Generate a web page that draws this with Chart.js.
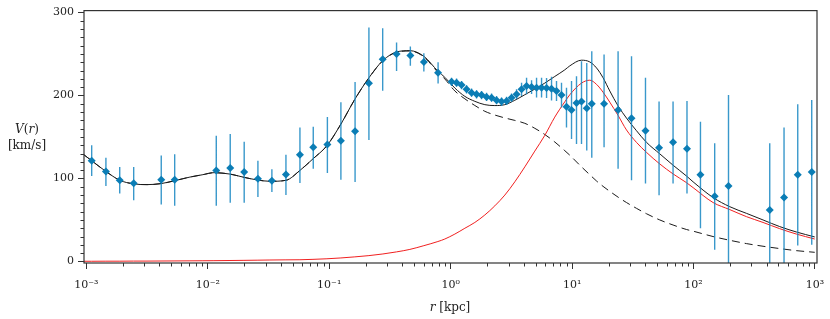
<!DOCTYPE html>
<html>
<head>
<meta charset="utf-8">
<script src="https://cdn.jsdelivr.net/npm/chart.js@4/dist/chart.umd.min.js"></script>
<style>
  body { margin: 0; background: #fff; }
  #wrap { position: relative; width: 830px; height: 319px; }
  .axis-title { position: absolute; font-family: "DejaVu Serif", serif; font-size: 12px; color: #222; text-align: center; line-height: 16px; }
</style>
</head>
<body>
<div id="wrap">
  <canvas id="chart" width="830" height="319"></canvas>
  <div class="axis-title" style="left:2px; top:121px; width:50px;"><i>V</i>(<i>r</i>)<br>[km/s]</div>
  <div class="axis-title" style="left:400px; top:299px; width:100px;"><i>r</i> [kpc]</div>
</div>
<script>
// observed rotation curve (kpc, km/s)
const obsRadius = [
  0.001107, 0.00145, 0.001884, 0.002455, 0.00414, 0.00534, 0.01175, 0.01531, 0.01995, 0.02588,
  0.03373, 0.04403, 0.0574, 0.0739, 0.0966, 0.1248, 0.1633, 0.2123, 0.2756, 0.3586,
  0.4657, 0.6015, 0.788, 1.017, 1.118, 1.229, 1.352, 1.486, 1.634, 1.796,
  1.975, 2.172, 2.387, 2.625, 2.886, 3.173, 3.488, 3.835, 4.217, 4.636,
  5.096, 5.603, 6.16, 6.77, 7.44, 8.18, 8.99, 9.89, 10.87, 11.95,
  13.2, 14.52, 18.33, 23.91, 30.85, 40.2, 52.0, 67.8, 88.3, 114,
  149.3, 194, 424, 556, 721, 940
];
const obsVelocity = [
  121.3, 108.5, 97.8, 94.2, 98.6, 98.6, 109.7, 112.5, 107.7, 99.8,
  97.4, 104.9, 128.7, 137.6, 141, 145.6, 156.8, 214.8, 243.7, 250.1,
  248.3, 240.3, 227.4, 216.6, 215.4, 212.6, 207.5, 203.4, 201.5, 200.7,
  198.3, 197.4, 194.3, 192.7, 193.5, 197.4, 201.5, 207.5, 211.4, 210.2,
  209.4, 209.4, 209, 208.2, 205.5, 200.7, 186.5, 182.7, 191, 192.7,
  184.8, 190, 190, 182.7, 172.5, 157.6, 137, 143.6, 135.7, 104.6,
  78.6, 90.9, 61.9, 77.1, 104.6, 107.7
];
const obsHigh = [
  140.2, 125, 113.7, 113.7, 127.7, 129.2, 151.6, 153.6, 144.4, 121.3,
  111, 128.7, 161.5, 162.5, 174, 192, 216.3, 282, 281, 264,
  259, 251, 240, 221.5, 220.5, 217.5, 212.5, 208.5, 206.5, 205.5,
  203.5, 202.5, 199.5, 197.5, 198.5, 202.5, 207.5, 215.5, 221.5, 218.5,
  221.5, 221.5, 221, 222.5, 217.5, 215.4, 209.4, 217.4, 223.4, 241.4,
  239.3, 253.3, 249.4, 253.3, 247.3, 221.4, 192.7, 192.7, 193.5, 168.4,
  142.4, 200.7, 142.4, 161.5, 189.5, 194.7
];
const obsLow = [
  103, 91, 81.8, 73.8, 68.7, 67, 67, 70.6, 70.6, 77.8,
  83.8, 80, 94.5, 111.8, 106.5, 98.6, 95.7, 146.5, 205.8, 229.6,
  236, 229, 214.5, 211.5, 210.5, 207.5, 202.5, 198.5, 196.5, 195.5,
  193.5, 192.5, 189.5, 187.5, 188.5, 192.5, 195.5, 199.5, 201.5, 202,
  197.5, 197.5, 197, 194, 193.5, 185.5, 161.5, 147.6, 141.7, 141.7,
  133.7, 124.9, 137.6, 111.8, 97.8, 93.8, 79.8, 93.8, 82, 40,
  14, -5, -5, -5, 19.1, 20
];

// model curves sampled on a common radius grid (kpc, km/s)
const modelRadius = [
  0.000957, 0.001107, 0.00145, 0.00189, 0.00245, 0.00316, 0.00412, 0.00537, 0.00713, 0.00912,
  0.01124, 0.01524, 0.01986, 0.02588, 0.0325, 0.04403, 0.0574, 0.0735, 0.0958, 0.1248,
  0.1626, 0.2123, 0.2767, 0.3586, 0.4616, 0.6015, 0.785, 0.895, 1.083, 1.309,
  1.582, 1.912, 2.31, 2.793, 3.376, 4.08, 4.93, 5.96, 7.2, 8.71,
  9.58, 11.95, 13.99, 15.88, 17.99, 20.43, 23.91, 28.04, 33.9, 40.96,
  52.7, 67.8, 87.4, 99.1, 144.8, 198.6, 272.4, 373.3, 512, 702,
  995
];
const totalModel = [
  128.5, 121.4, 108.5, 97.8, 93.5, 92.6, 93.8, 97.4, 101.7, 104.6,
  107, 105.3, 101.4, 98.1, 96.6, 97.8, 109.7, 123.7, 139.6, 165.6,
  195.5, 221.4, 242.2, 252.5, 254.1, 247.3, 229.4, 222, 209, 199,
  193, 189, 187.9, 189, 194.3, 201, 207.8, 215, 223, 231,
  235.8, 242.6, 240.5, 233.3, 221.4, 205.5, 187.5, 172.8, 157.6, 143.6,
  129.7, 116, 103, 96, 77, 66, 58, 50, 42, 35.5,
  29.5
];
const haloModel = [
  0.2, 0.2, 0.3, 0.3, 0.4, 0.4, 0.5, 0.6, 0.7, 0.8,
  0.9, 1.1, 1.3, 1.5, 1.7, 1.9, 2.0, 2.5, 3.2, 4.2,
  5.5, 7, 9, 11.5, 14.5, 19, 24, 27, 33, 40,
  47, 56, 67, 80, 96, 114, 133, 152, 174, 192.5,
  201, 215, 218.5, 213.5, 204, 192, 176, 158.5, 143.5, 131.5,
  117.5, 105.5, 95, 89, 71, 62.5, 54, 47, 39.5, 33,
  27
];
const baryonModel = [
  128.5, 121.4, 108.5, 97.8, 93.5, 92.6, 93.8, 97.4, 101.7, 104.6,
  107, 105.3, 101.4, 98.1, 96.6, 97.8, 109.7, 123.7, 139.6, 165.6,
  195.5, 221.3, 242, 252.2, 253.7, 246.6, 228, 220, 205.5, 196,
  188, 181, 176.5, 173, 170, 166.5, 160.5, 153, 144, 133.5,
  128, 114, 104.5, 97, 90.5, 84.5, 77.5, 71, 64, 57.5,
  50, 43.9, 38.5, 36.5, 30, 25.5, 21.5, 18.3, 15.5, 13,
  11
];

const yTickValues = [];
for (let v = 0; v <= 300; v += 10) yTickValues.push(v);

const supMap = { '-': '\u207B', '0': '\u2070', '1': '\u00B9', '2': '\u00B2', '3': '\u00B3' };
const sup = n => String(n).split('').map(c => supMap[c] || c).join('');
const isDecade = v => Math.abs(Math.log10(v) - Math.round(Math.log10(v))) < 1e-9;

const points = (xs, ys) => xs.map((x, i) => ({ x: x, y: ys[i] }));

const errorSegments = [];
obsRadius.forEach((r, i) => {
  errorSegments.push({ x: r, y: obsLow[i] });
  errorSegments.push({ x: r, y: obsHigh[i] });
  errorSegments.push({ x: r, y: null });
});

const frameAndMinorTicks = {
  id: 'frameAndMinorTicks',
  afterDraw(chart) {
    const { ctx, chartArea: a, scales: { x, y } } = chart;
    ctx.save();
    ctx.strokeStyle = '#333';
    ctx.lineWidth = 1;
    ctx.beginPath();
    x.ticks.forEach(t => {
      if (isDecade(t.value)) return;
      const px = Math.round(x.getPixelForValue(t.value)) + 0.5;
      ctx.moveTo(px, a.bottom);
      ctx.lineTo(px, a.bottom + 3.5);
    });
    y.ticks.forEach(t => {
      if (t.value % 100 === 0) return;
      const py = Math.round(y.getPixelForValue(t.value)) + 0.5;
      ctx.moveTo(a.left - 3.5, py);
      ctx.lineTo(a.left, py);
    });
    ctx.stroke();
    ctx.lineWidth = 1.2;
    ctx.strokeRect(a.left, a.top, a.right - a.left, a.bottom - a.top);
    ctx.restore();
  }
};

Chart.defaults.font.family = '"DejaVu Serif", serif';
Chart.defaults.font.size = 11;
Chart.defaults.color = '#222';

new Chart(document.getElementById('chart'), {
  type: 'line',
  data: {
    datasets: [
      {
        label: 'observed',
        data: points(obsRadius, obsVelocity),
        showLine: false,
        pointStyle: 'rectRot',
        pointRadius: 4,
        pointBackgroundColor: '#0b7db5',
        pointBorderWidth: 0,
        order: 0
      },
      {
        label: 'errors',
        data: errorSegments,
        borderColor: 'rgba(22,134,194,0.85)',
        borderWidth: 1.4,
        pointRadius: 0,
        spanGaps: false,
        order: 1
      },
      {
        label: 'total',
        data: points(modelRadius, totalModel),
        borderColor: '#1a1a1a',
        borderWidth: 1,
        pointRadius: 0,
        cubicInterpolationMode: 'monotone',
        order: 2
      },
      {
        label: 'halo',
        data: points(modelRadius, haloModel),
        borderColor: '#f02020',
        borderWidth: 1,
        pointRadius: 0,
        cubicInterpolationMode: 'monotone',
        order: 3
      },
      {
        label: 'baryons',
        data: points(modelRadius, baryonModel),
        borderColor: '#1a1a1a',
        borderWidth: 1,
        borderDash: [8, 5],
        pointRadius: 0,
        cubicInterpolationMode: 'monotone',
        order: 4
      }
    ]
  },
  options: {
    responsive: false,
    animation: false,
    devicePixelRatio: 1,
    layout: { padding: { top: 9, right: 13, left: 0, bottom: 0 } },
    plugins: { legend: { display: false }, tooltip: { enabled: false } },
    scales: {
      x: {
        type: 'logarithmic',
        min: 0.000957,
        max: 1038.7,
        afterBuildTicks: s => {
          const ticks = [];
          for (let e = -3; e <= 3; e++) {
            for (let k = 1; k <= 9; k++) {
              const v = k * Math.pow(10, e);
              if (v >= s.min && v <= s.max) ticks.push({ value: v });
            }
          }
          s.ticks = ticks;
        },
        afterFit: s => {
          s.height = 56;
          s.paddingLeft = 0;
          s.paddingRight = 0;
        },
        border: { display: false },
        grid: {
          drawOnChartArea: false,
          tickLength: 6,
          tickColor: c => (c.tick && isDecade(c.tick.value)) ? '#333' : 'rgba(0,0,0,0)'
        },
        ticks: {
          autoSkip: false,
          maxRotation: 0,
          padding: 10,
          callback: v => isDecade(v) ? '10' + sup(Math.round(Math.log10(v))) : ''
        }
      },
      y: {
        type: 'linear',
        min: -1.9,
        max: 302.4,
        afterBuildTicks: s => { s.ticks = yTickValues.map(v => ({ value: v })); },
        afterFit: s => { s.width = 84; },
        border: { display: false },
        grid: {
          drawOnChartArea: false,
          tickLength: 6,
          tickColor: c => (c.tick && c.tick.value % 100 === 0) ? '#333' : 'rgba(0,0,0,0)'
        },
        ticks: {
          autoSkip: false,
          padding: 4,
          callback: v => v % 100 === 0 ? String(v) : ''
        }
      }
    }
  },
  plugins: [frameAndMinorTicks]
});
</script>
</body>
</html>
